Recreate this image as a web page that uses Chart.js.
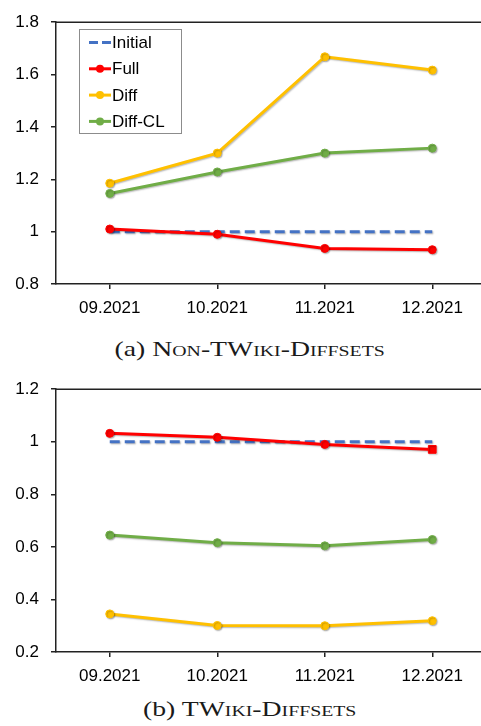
<!DOCTYPE html>
<html>
<head>
<meta charset="utf-8">
<script src="https://cdn.jsdelivr.net/npm/chart.js@4"></script>
<style>
html, body { margin: 0; padding: 0; background: #fff; overflow: hidden; width: 481px; height: 726px; }
.wrap { position: absolute; left: 0; }
.caption { position: absolute; left: 0; width: 500px; text-align: center; line-height: 24px; white-space: nowrap;
  font-family: "Liberation Serif", "DejaVu Serif", serif; font-size: 21px; font-variant: small-caps; color: #1a1a1a;
  transform: scaleX(1.32); transform-origin: 251px 50%; }
.caption span { font-variant: normal; }
</style>
</head>
<body>
<div class="wrap" style="top:0"><canvas id="chartA" width="500" height="325"></canvas></div>
<div class="caption" style="top:337px"><span>(a)</span> Non-TWiki-Diffsets</div>
<div class="wrap" style="top:367px"><canvas id="chartB" width="500" height="325"></canvas></div>
<div class="caption" style="top:697px"><span>(b)</span> TWiki-Diffsets</div>
<script>
const months = ['09.2021', '10.2021', '11.2021', '12.2021']
const seriesNames = ['Initial', 'Full', 'Diff', 'Diff-CL']
const seriesColors = ['#4472C4', '#FF0000', '#FFC000', '#70AD47']

// (a) non-TWiki diffsets
const nonTwikiInitial = [1, 1, 1, 1]
const nonTwikiFull = [1.01, 0.99, 0.936, 0.931]
const nonTwikiDiff = [1.185, 1.30, 1.668, 1.617]
const nonTwikiDiffCL = [1.146, 1.228, 1.30, 1.319]
const nonTwikiTicks = [0.8, 1, 1.2, 1.4, 1.6, 1.8]

// (b) TWiki diffsets
const twikiInitial = [1, 1, 1, 1]
const twikiFull = [1.032, 1.017, 0.99, 0.971]
const twikiDiff = [0.345, 0.301, 0.30, 0.319]
const twikiDiffCL = [0.645, 0.616, 0.604, 0.628]
const twikiTicks = [0.2, 0.4, 0.6, 0.8, 1, 1.2]

const axisFont = { family: '"Liberation Sans", Arial, sans-serif', size: 17 }

// top border of the plot box
const frame = {
    id: 'frame',
    afterDraw(chart) {
        const a = chart.chartArea
        const ctx = chart.ctx
        ctx.save()
        ctx.strokeStyle = '#222'
        ctx.lineWidth = 1.5
        ctx.beginPath()
        ctx.moveTo(a.left, a.top)
        ctx.lineTo(a.right, a.top)
        ctx.stroke()
        ctx.restore()
    }
}

// soft shadow under the lines, like the office export
const lineShadow = {
    id: 'lineShadow',
    beforeDatasetsDraw(chart) {
        const ctx = chart.ctx
        ctx.save()
        ctx.shadowColor = 'rgba(0,0,0,0.28)'
        ctx.shadowOffsetX = 1
        ctx.shadowOffsetY = 1
        ctx.shadowBlur = 1.5
    },
    afterDatasetsDraw(chart) {
        chart.ctx.restore()
    }
}

// boxed legend inside the plot
const legendBox = {
    id: 'legendBox',
    afterDraw(chart) {
        const ctx = chart.ctx
        const x0 = 79, y0 = 29, w = 102, h = 104
        ctx.save()
        ctx.fillStyle = '#fff'
        ctx.fillRect(x0, y0, w, h)
        ctx.strokeStyle = '#8c8c8c'
        ctx.lineWidth = 1
        ctx.strokeRect(x0 + 0.5, y0 + 0.5, w, h)
        ctx.font = '17px "Liberation Sans", Arial, sans-serif'
        ctx.textBaseline = 'middle'
        chart.data.datasets.forEach((ds, i) => {
            const y = 42.5 + i * 26.3
            ctx.strokeStyle = ds.borderColor
            ctx.lineWidth = 3
            ctx.setLineDash(ds.borderDash ? [9, 4] : [])
            ctx.beginPath()
            ctx.moveTo(89, y)
            ctx.lineTo(111, y)
            ctx.stroke()
            ctx.setLineDash([])
            if (!ds.borderDash) {
                ctx.fillStyle = ds.borderColor
                ctx.beginPath()
                ctx.arc(100, y, 4, 0, Math.PI * 2)
                ctx.fill()
            }
            ctx.fillStyle = '#000'
            ctx.fillText(ds.label, 112, y + 1)
        })
        ctx.restore()
    }
}

function makeDatasets(values, fullStyle, fullRadius){
    return values.map((vals, i) => {
        const ds = {
            label: seriesNames[i],
            data: vals,
            borderColor: seriesColors[i],
            backgroundColor: seriesColors[i],
            borderWidth: 3,
            pointRadius: 4,
            pointBorderWidth: 1,
            pointStyle: 'circle',
            tension: 0,
            order: values.length - i
        }
        if(i === 0){
            ds.borderDash = [10, 5]
            ds.pointRadius = 0
        }
        if(i === 1 && fullStyle){
            ds.pointStyle = fullStyle
            ds.pointRadius = fullRadius
        }
        return ds
    })
}

function makeChart(id, values, ticks, xHeight, plugins, fullStyle, fullRadius){
    const ctx = document.getElementById(id).getContext('2d')
    return new Chart(ctx, {
        type: 'line',
        data: {
            labels: months,
            datasets: makeDatasets(values, fullStyle, fullRadius)
        },
        options: {
            responsive: false,
            animation: false,
            layout: { padding: { left: 0, top: 14, right: 14, bottom: 0 } },
            plugins: { legend: { display: false }, tooltip: { enabled: false } },
            scales: {
                x: {
                    offset: true,
                    grid: { drawOnChartArea: false, drawTicks: true, tickLength: 5, color: '#222', lineWidth: 1.5, offset: false },
                    border: { color: '#222', width: 1.5 },
                    ticks: { color: '#000', font: axisFont, padding: 9, maxRotation: 0 },
                    afterFit(s){ s.height = xHeight }
                },
                y: {
                    min: ticks[0],
                    max: ticks[ticks.length - 1],
                    grid: { drawOnChartArea: false, drawTicks: true, tickLength: 5, color: '#222', lineWidth: 1.5 },
                    border: { color: '#222', width: 1.5 },
                    ticks: { color: '#000', font: axisFont, padding: 12,
                        callback: v => String(parseFloat(Number(v).toFixed(2))) },
                    afterBuildTicks(s){ s.ticks = ticks.map(v => ({ value: v })) },
                    afterFit(s){ s.width = 56 }
                }
            }
        },
        plugins: plugins
    })
}

const chartA = makeChart('chartA',
    [nonTwikiInitial, nonTwikiFull, nonTwikiDiff, nonTwikiDiffCL],
    nonTwikiTicks, 41, [lineShadow, frame, legendBox])

const chartB = makeChart('chartB',
    [twikiInitial, twikiFull, twikiDiff, twikiDiffCL],
    twikiTicks, 40, [lineShadow, frame],
    ['circle', 'circle', 'circle', 'rect'], [4, 4, 4, 5.5])
</script>
</body>
</html>
